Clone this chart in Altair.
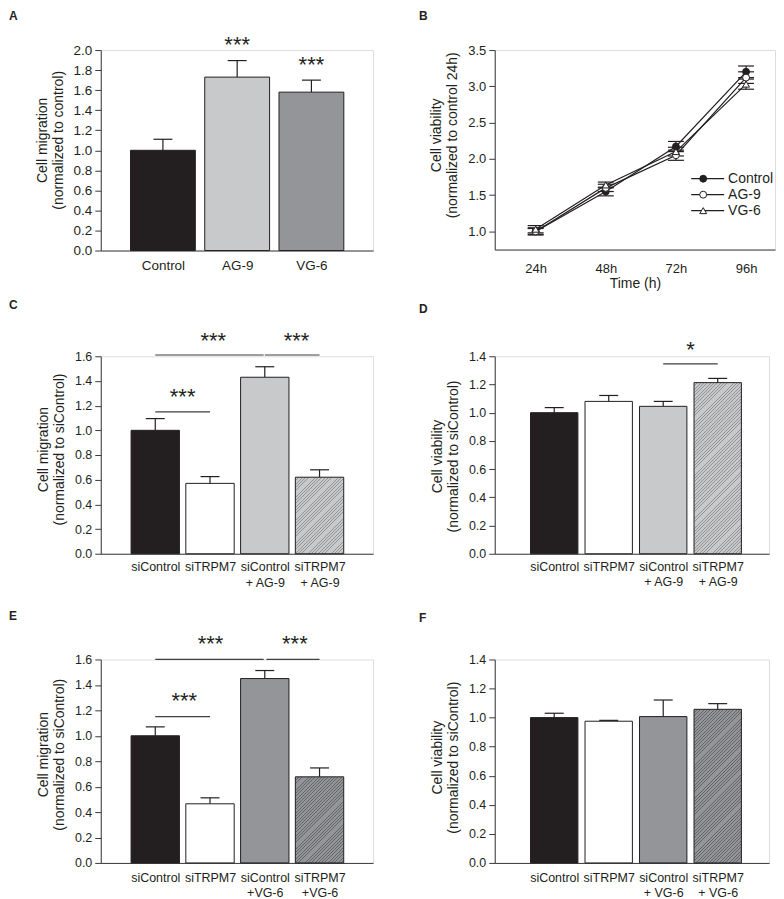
import json
import altair as alt
import pandas as pd

FONT = "Liberation Sans"
INK = "#231f20"
AXIS_INK = "#3a3a3a"
SIG_INK = "#3f3f3f"

# ---------------- data ----------------
# Panel A
a_groups = ["Control", "AG-9", "VG-6"]
a_means = [1.00, 1.73, 1.58]
a_sems = [0.11, 0.165, 0.12]
a_star_x = [1.0, 2.0]
a_star_y = [2.11, 1.91]
a_star_txt = ["***", "***"]

# Panel B
b_hours = [24, 48, 72, 96]
b_series = ["Control", "AG-9", "VG-6"]
b_control = [1.00, 1.55, 2.17, 3.20]
b_control_err = [0.05, 0.06, 0.07, 0.08]
b_ag9 = [1.00, 1.60, 2.05, 3.12]
b_ag9_err = [0.04, 0.05, 0.07, 0.08]
b_vg6 = [1.03, 1.64, 2.10, 3.03]
b_vg6_err = [0.05, 0.04, 0.06, 0.07]

# Panel C
c_groups = ["siControl", "siTRPM7", "siControl\n+ AG-9", "siTRPM7\n+ AG-9"]
c_means = [1.00, 0.57, 1.43, 0.62]
c_sems = [0.095, 0.055, 0.085, 0.06]
c_sig_x1 = [0, 2, 0]
c_sig_x2 = [1.98, 3, 1]
c_sig_y = [1.61, 1.61, 1.15]
c_star_x = [1.06, 2.58, 0.5]
c_star_y = [1.77, 1.77, 1.315]
c_star_txt = ["***", "***", "***"]

# Panel D
d_groups = ["siControl", "siTRPM7", "siControl\n+ AG-9", "siTRPM7\n+ AG-9"]
d_means = [1.00, 1.08, 1.045, 1.213]
d_sems = [0.036, 0.042, 0.035, 0.03]
d_sig_x1 = [2]
d_sig_x2 = [3]
d_sig_y = [1.346]
d_star_x = [2.5]
d_star_y = [1.49]
d_star_txt = ["*"]

# Panel E
e_groups = ["siControl", "siTRPM7", "siControl\n+VG-6", "siTRPM7\n+VG-6"]
e_means = [1.00, 0.465, 1.45, 0.677]
e_sems = [0.07, 0.047, 0.063, 0.07]
e_sig_x1 = [0, 2.03, 0]
e_sig_x2 = [1.98, 3, 1]
e_sig_y = [1.60, 1.60, 1.15]
e_star_x = [1.01, 2.55, 0.53]
e_star_y = [1.768, 1.768, 1.317]
e_star_txt = ["***", "***", "***"]

# Panel F
f_groups = ["siControl", "siTRPM7", "siControl\n+ VG-6", "siTRPM7\n+ VG-6"]
f_means = [1.00, 0.975, 1.007, 1.057]
f_sems = [0.03, 0.006, 0.114, 0.039]

# axis tick values
ticks_a = [0.0, 0.2, 0.4, 0.6, 0.8, 1.0, 1.2, 1.4, 1.6, 1.8, 2.0]
ticks_b = [1.0, 1.5, 2.0, 2.5, 3.0, 3.5]
ticks_ce = [0.0, 0.2, 0.4, 0.6, 0.8, 1.0, 1.2, 1.4, 1.6]
ticks_df = [0.0, 0.2, 0.4, 0.6, 0.8, 1.0, 1.2, 1.4]

# ---------------- styles ----------------
BLACK = "#231f20"
WHITE = "#ffffff"
LIGHT = "#c8c9cb"
MID = "#939598"
HATCH_LIGHT = (LIGHT, "#929395")
HATCH_MID = (MID, "#636466")


def label_expr(groups, shift):
    arr = []
    for g in groups:
        parts = g.split("\n")
        if len(parts) > 1:
            parts = [parts[0]] + ["\u00a0" * shift + p for p in parts[1:]]
        arr.append(parts)
    return json.dumps(arr, ensure_ascii=False) + "[datum.value]"


def hatch_gradient(w, h, bg, line, spacing=3.3, frac=0.28):
    t = (w + h) / (w * w + h * h)
    n = max(1, int(round((w + h) / spacing)))
    stops = []
    for k in range(n):
        o0 = k / n
        o1 = (k + frac) / n
        o2 = (k + 1) / n
        stops += [(o0, line), (o1, line), (o1, bg), (o2, bg)]
    return alt.LinearGradient(
        gradient="linear",
        stops=[alt.GradientStop(color=c, offset=round(min(o, 1.0), 6)) for o, c in stops],
        x1=0, y1=0, x2=w * t, y2=h * t,
    )


def y_axis(values, label_size, title_y):
    return alt.Axis(
        values=values, format=".1f", grid=False, tickSize=6, tickColor=AXIS_INK,
        tickWidth=1, domainColor=AXIS_INK, domainWidth=1, labelFont=FONT,
        labelFontSize=label_size, labelColor=INK, labelPadding=3,
        titleFont=FONT, titleFontSize=14, titleFontWeight="normal",
        titleColor=INK, titleLineHeight=16, titlePadding=8, titleY=title_y,
    )


def letter_layer(letter, dx, dy):
    return alt.Chart(pd.DataFrame({"letter": [letter]})).mark_text(
        font=FONT, fontSize=12, fontWeight="bold", align="left", baseline="top", color=INK
    ).encode(x=alt.value(dx), y=alt.value(dy), text="letter:N")


def bar_panel(groups, means, sems, fills, hatch, ymax, yticks, width, height,
              xdom, barw, ytitle, title_y, label_size, letter, letter_xy, shift,
              xpad, line_h, sig=None, stars=None):
    n = len(groups)
    idx = list(range(n))
    df = pd.DataFrame({
        "idx": idx, "mean": means,
        "top": [m + s for m, s in zip(means, sems)],
        "fill": [f if isinstance(f, str) else f[0] for f in fills],
    })
    xs = alt.Scale(domain=xdom, nice=False, zero=False)
    ys = alt.Scale(domain=[0, ymax], nice=False)
    xaxis = alt.Axis(
        values=idx, labelExpr=label_expr(groups, shift), ticks=False, tickSize=0,
        grid=False, labelFont=FONT, labelFontSize=label_size, labelColor=INK,
        labelPadding=xpad, labelLineHeight=line_h, labelFlush=False, labelOverlap=False,
        labelBound=False, domainColor=AXIS_INK, domainWidth=1,
    )
    yaxis = y_axis(yticks, label_size, title_y)

    def X(f):
        return alt.X(f, type="quantitative", scale=xs, axis=xaxis, title=None)

    def Y(f):
        return alt.Y(f, type="quantitative", scale=ys, axis=yaxis, title=ytitle)

    base = alt.Chart(df)
    err = base.mark_rule(color=INK, strokeWidth=1.2).encode(
        x=X("idx"), y=Y("mean"), y2="top")
    bars = base.transform_filter(alt.datum.idx != (hatch if hatch is not None else -1)).mark_bar(
        orient="vertical", width=barw, stroke=INK, strokeWidth=1
    ).encode(x=X("idx"), y=Y("mean"), y2=alt.datum(0),
             fill=alt.Fill("fill:N", scale=None))
    caps = base.mark_point(
        shape="M-1,0L1,0", size=19 * 19, stroke=INK, strokeWidth=1.2,
        opacity=1, filled=False
    ).encode(x=X("idx"), y=Y("top"))
    layers = [err, bars]
    if hatch is not None:
        w = barw
        h = means[hatch] / ymax * height
        bg, line = fills[hatch]
        hb = base.transform_filter(alt.datum.idx == hatch).mark_bar(
            orient="vertical", width=barw, stroke=INK, strokeWidth=1,
            fill=hatch_gradient(w, h, bg, line)
        ).encode(x=X("idx"), y=Y("mean"), y2=alt.datum(0))
        layers.append(hb)
    layers.append(caps)
    if sig is not None:
        sdf = pd.DataFrame({"x1": sig[0], "x2": sig[1], "y": sig[2]})
        layers.append(alt.Chart(sdf).mark_rule(color=SIG_INK, strokeWidth=1.2).encode(
            x=X("x1"), x2="x2", y=Y("y")))
    if stars is not None:
        tdf = pd.DataFrame({"x": stars[0], "y": stars[1], "t": stars[2]})
        layers.append(alt.Chart(tdf).mark_text(
            font=FONT, fontSize=22, color=INK, baseline="middle", dy=6
        ).encode(x=X("x"), y=Y("y"), text="t:N"))
    layers.append(letter_layer(letter, *letter_xy))
    return alt.layer(*layers).properties(width=width, height=height)


# ---------------- panel A ----------------
pA = bar_panel(
    a_groups, a_means, a_sems, [BLACK, LIGHT, MID], None, 2.0, ticks_a, 273, 201,
    [-0.77, 2.763], 65, ["Cell migration", "(normalized to control)"], 90, 13.5,
    "A", (-92, -39), 0, 8, 15, stars=(a_star_x, a_star_y, a_star_txt))

# ---------------- panel C ----------------
pC = bar_panel(
    c_groups, c_means, c_sems, [BLACK, WHITE, LIGHT, HATCH_LIGHT], 3, 1.6, ticks_ce,
    273, 198, [-0.904, 3.886], 48.5, ["Cell migration", "(normalized to siControl)"],
    93, 12.5, "C", (-92, -56), 6, 7, 16,
    sig=(c_sig_x1, c_sig_x2, c_sig_y), stars=(c_star_x, c_star_y, c_star_txt))

# ---------------- panel D ----------------
pD = bar_panel(
    d_groups, d_means, d_sems, [BLACK, WHITE, LIGHT, HATCH_LIGHT], 3, 1.4, ticks_df,
    275, 198, [-1.0, 3.85], 47.5, ["Cell viability", "(normalized to siControl)"],
    100, 12.5, "D", (-76, -52), 5, 7, 15,
    sig=(d_sig_x1, d_sig_x2, d_sig_y), stars=(d_star_x, d_star_y, d_star_txt))

# ---------------- panel E ----------------
pE = bar_panel(
    e_groups, e_means, e_sems, [BLACK, WHITE, MID, HATCH_MID], 3, 1.6, ticks_ce,
    273, 204, [-0.904, 3.886], 48.5, ["Cell migration", "(normalized to siControl)"],
    95, 12.5, "E", (-92, -49), 5, 9, 15,
    sig=(e_sig_x1, e_sig_x2, e_sig_y), stars=(e_star_x, e_star_y, e_star_txt))

# ---------------- panel F ----------------
pF = bar_panel(
    f_groups, f_means, f_sems, [BLACK, WHITE, MID, HATCH_MID], 3, 1.4, ticks_df,
    275, 204, [-1.0, 3.85], 47.5, ["Cell viability", "(normalized to siControl)"],
    98, 12.5, "F", (-76, -47), 6, 9, 15)

# ---------------- panel B ----------------
rows = []
for s, vals, errs in zip(b_series, [b_control, b_ag9, b_vg6],
                         [b_control_err, b_ag9_err, b_vg6_err]):
    for hr, v, e in zip(b_hours, vals, errs):
        rows.append({"hour": hr, "series": s, "mean": v, "lo": v - e, "hi": v + e})
bdf = pd.DataFrame(rows)

bxs = alt.Scale(domain=[10.0, 105.9], nice=False, zero=False)
bys = alt.Scale(domain=[0.75, 3.5], nice=False, zero=False)
bxaxis = alt.Axis(
    values=b_hours, labelExpr="datum.value + 'h'", ticks=False, tickSize=0, grid=False,
    labelFont=FONT, labelFontSize=13, labelColor=INK, labelPadding=13,
    labelFlush=False, domainColor=AXIS_INK, domainWidth=1, titleFont=FONT,
    titleFontSize=14, titleFontWeight="normal", titleColor=INK, titlePadding=1,
)
byaxis = y_axis(ticks_b, 13, 85)


def BX(f):
    return alt.X(f, type="quantitative", scale=bxs, axis=bxaxis, title="Time (h)")


def BY(f):
    return alt.Y(f, type="quantitative", scale=bys, axis=byaxis,
                 title=["Cell viability", "(normalized to control 24h)"])


shape_scale = alt.Scale(domain=b_series, range=["circle", "circle", "triangle-up"])
fill_scale = alt.Scale(domain=b_series, range=[INK, "#ffffff", "#ffffff"])

bbase = alt.Chart(bdf)
b_lines = bbase.mark_line(color=INK, strokeWidth=1.2).encode(
    x=BX("hour"), y=BY("mean"), detail="series:N", order="hour:Q")
b_err = bbase.mark_rule(color=INK, strokeWidth=1.2).encode(
    x=BX("hour"), y=BY("lo"), y2="hi")
b_cap_lo = bbase.mark_point(shape="M-1,0L1,0", size=256, stroke=INK, strokeWidth=1.2,
                            filled=False, opacity=1).encode(x=BX("hour"), y=BY("lo"))
b_cap_hi = bbase.mark_point(shape="M-1,0L1,0", size=256, stroke=INK, strokeWidth=1.2,
                            filled=False, opacity=1).encode(x=BX("hour"), y=BY("hi"))
b_pts = bbase.mark_point(filled=True, size=48, stroke=INK, strokeWidth=1, opacity=1).encode(
    x=BX("hour"), y=BY("mean"),
    shape=alt.Shape("series:N", scale=shape_scale, legend=None),
    fill=alt.Fill("series:N", scale=fill_scale, legend=None))

leg_df = pd.DataFrame({"series": b_series})
leg_layers = []
for i, s in enumerate(b_series):
    yy = 129 + 16 * i
    sub = alt.Chart(leg_df).transform_filter(alt.datum.series == s)
    leg_layers.append(sub.mark_rule(color=INK, strokeWidth=1.2).encode(
        x=alt.value(197), x2=alt.value(230), y=alt.value(yy)))
    leg_layers.append(sub.mark_point(filled=True, size=48, stroke=INK, strokeWidth=1,
                                     opacity=1).encode(
        x=alt.value(209), y=alt.value(yy),
        shape=alt.Shape("series:N", scale=shape_scale, legend=None),
        fill=alt.Fill("series:N", scale=fill_scale, legend=None)))
    leg_layers.append(sub.mark_text(font=FONT, fontSize=14, color=INK, align="left",
                                    baseline="middle").encode(
        x=alt.value(234), y=alt.value(yy), text="series:N"))

pB = alt.layer(b_lines, b_err, b_cap_lo, b_cap_hi, b_pts, *leg_layers,
               letter_layer("B", -76, -39)).properties(width=281, height=200)

chart = alt.concat(
    pA, pB, pC, pD, pE, pF, columns=2,
    spacing={"row": 106, "column": 122}, bounds="flush",
).properties(padding=0).configure_view(stroke=None).configure(font=FONT)

chart.save("out.html", embed_options={"renderer": "svg", "actions": False})
